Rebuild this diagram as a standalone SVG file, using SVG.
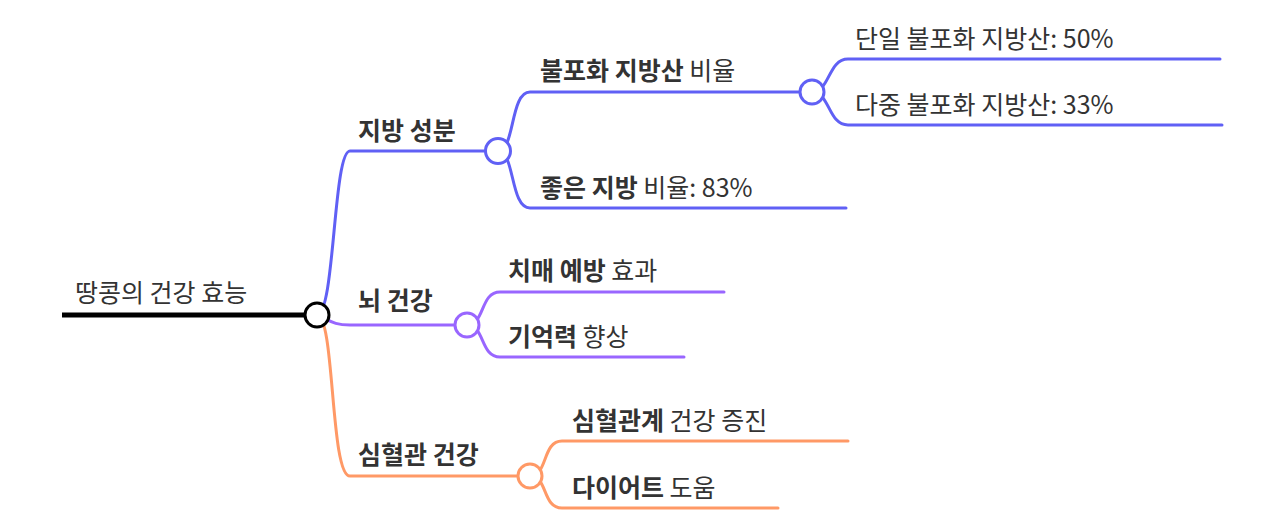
<svg xmlns="http://www.w3.org/2000/svg" width="1280" height="520" viewBox="0 0 1280 520">
<style>
text{font-family:"Noto Sans CJK KR","Noto Sans",sans-serif;font-size:25px;fill:#333}
.b{font-weight:bold}
.l{fill:none;stroke-width:3;stroke-linecap:round}
.c1{stroke:#6060f5}.c2{stroke:#9966ff}.c3{stroke:#ff9966}
circle{fill:#fff;stroke-width:3}
</style>
<rect width="1280" height="520" fill="#fff"/>
<g id="connectors">
<path class="l c1" d="M317,315 C335,315 333,151 350,151 L498,151"/>
<path class="l c1" d="M498,151 C515,151 510,92 530,92 L812,92"/>
<path class="l c1" d="M498,151 C515,151 510,208 530,208 L846,208"/>
<path class="l c1" d="M812,92 C830,92 828,59 848,59 L1220,59"/>
<path class="l c1" d="M812,92 C830,92 828,125 848,125 L1222,125"/>
<path class="l c2" d="M317,315 C330,320 332,325 350,325 L467,325"/>
<path class="l c2" d="M467,325 C485,325 480,292 500,292 L724,292"/>
<path class="l c2" d="M467,325 C485,325 480,357 500,357 L684,357"/>
<path class="l c3" d="M317,315 C335,315 330,476 350,476 L530,476"/>
<path class="l c3" d="M530,476 C548,476 542,441 562,441 L848,441"/>
<path class="l c3" d="M530,476 C548,476 542,508 562,508 L778,508"/>
<path fill="none" stroke="#000" stroke-width="5" d="M62,315 L317,315"/>
</g>
<g id="root"><circle cx="317" cy="315" r="12" stroke="#000"/><text x="75" y="302">땅콩의 건강 효능</text></g>
<g id="fat"><circle cx="498" cy="151" r="12.5" class="c1"/><text x="358" y="140" class="b">지방 성분</text></g>
<g id="unsat"><circle cx="812" cy="92" r="12" class="c1"/><text x="540" y="80"><tspan class="b">불포화 지방산</tspan> 비율</text></g>
<g id="mono"><text x="855" y="48">단일 불포화 지방산: 50%</text></g>
<g id="poly"><text x="855" y="114">다중 불포화 지방산: 33%</text></g>
<g id="good"><text x="540" y="197"><tspan class="b">좋은 지방</tspan> 비율: 83%</text></g>
<g id="brain"><circle cx="467" cy="325" r="12" class="c2"/><text x="358" y="310" class="b">뇌 건강</text></g>
<g id="dementia"><text x="508" y="280"><tspan class="b">치매 예방</tspan> 효과</text></g>
<g id="memory"><text x="508" y="346"><tspan class="b">기억력</tspan> 향상</text></g>
<g id="heart"><circle cx="530" cy="476" r="12" class="c3"/><text x="358" y="464" class="b">심혈관 건강</text></g>
<g id="cardio"><text x="572" y="430"><tspan class="b">심혈관계</tspan> 건강 증진</text></g>
<g id="diet"><text x="572" y="497"><tspan class="b">다이어트</tspan> 도움</text></g>
</svg>
